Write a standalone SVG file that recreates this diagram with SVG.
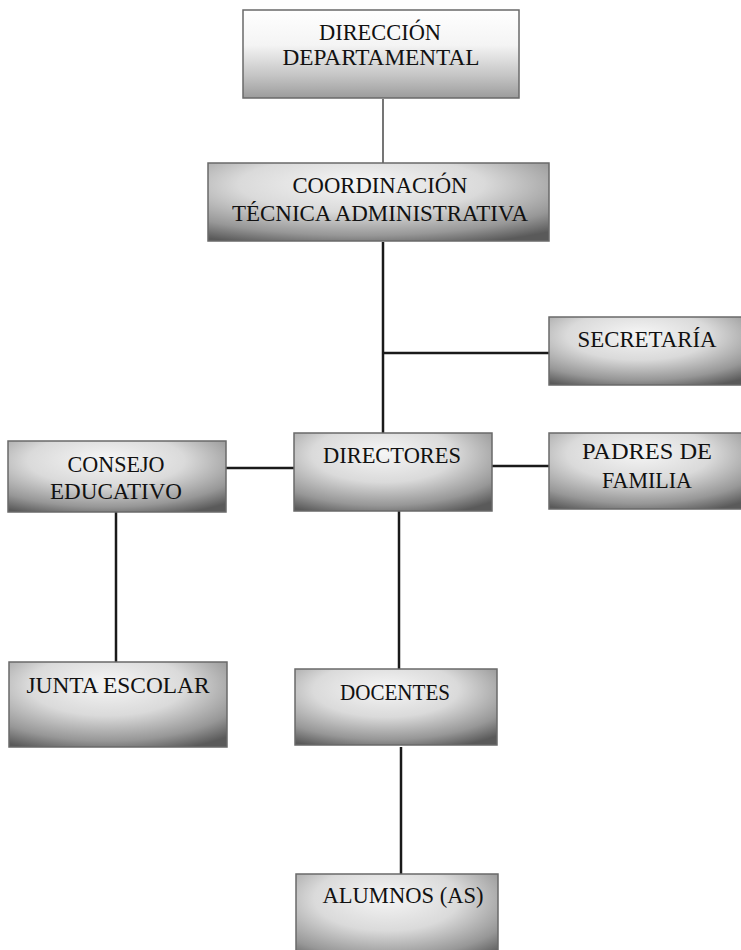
<svg xmlns="http://www.w3.org/2000/svg" width="741" height="950" viewBox="0 0 741 950">
  <defs>
    <radialGradient id="shade" cx="0.45" cy="0.3" r="0.8" fx="0.45" fy="0.25">
      <stop offset="0" stop-color="#f6f6f6"/>
      <stop offset="0.45" stop-color="#dadada"/>
      <stop offset="0.8" stop-color="#979797"/>
      <stop offset="1" stop-color="#5a5a5a"/>
    </radialGradient>
    <linearGradient id="shadeTop" x1="0" y1="0" x2="0" y2="1">
      <stop offset="0" stop-color="#ffffff"/>
      <stop offset="0.4" stop-color="#f4f4f4"/>
      <stop offset="0.75" stop-color="#c4c4c4"/>
      <stop offset="1" stop-color="#9c9c9c"/>
    </linearGradient>
  </defs>
  <style>
    .box { fill: url(#shade); stroke: #6a6a6a; stroke-width: 1.5; }
    .box.top { fill: url(#shadeTop); }
    .lbl { font-family: "Liberation Serif", "DejaVu Serif", serif; font-size: 24px; fill: #111111; text-anchor: middle; }
    .wire { stroke: #1a1a1a; stroke-width: 2.5; fill: none; }
    .wire.thin { stroke-width: 1.2; }
  </style>
  <rect width="741" height="950" fill="#ffffff"/>

  <g id="connectors">
    <line class="wire thin" x1="383" y1="99" x2="383" y2="163"/>
    <line class="wire" x1="383" y1="242" x2="383" y2="433"/>
    <line class="wire" x1="383" y1="353" x2="549" y2="353"/>
    <line class="wire" x1="226" y1="468" x2="294" y2="468"/>
    <line class="wire" x1="492" y1="466" x2="549" y2="466"/>
    <line class="wire" x1="116" y1="512" x2="116" y2="662"/>
    <line class="wire" x1="399" y1="511" x2="399" y2="669"/>
    <line class="wire" x1="401" y1="747" x2="401" y2="874"/>
  </g>

  <!-- labels use a slightly condensed serif (textLength) -->
  <g id="direccion">
    <rect class="box top" x="243" y="10" width="276" height="88"/>
    <text class="lbl" x="380" y="40" textLength="122" lengthAdjust="spacingAndGlyphs">DIRECCIÓN</text>
    <text class="lbl" x="381" y="65" textLength="197" lengthAdjust="spacingAndGlyphs">DEPARTAMENTAL</text>
  </g>

  <g id="coordinacion">
    <rect class="box" x="208" y="163" width="341" height="78"/>
    <text class="lbl" x="380" y="193" textLength="175" lengthAdjust="spacingAndGlyphs">COORDINACIÓN</text>
    <text class="lbl" x="380" y="221" textLength="296" lengthAdjust="spacingAndGlyphs">TÉCNICA ADMINISTRATIVA</text>
  </g>

  <g id="secretaria">
    <rect class="box" x="549" y="317" width="200" height="68"/>
    <text class="lbl" x="647" y="347" textLength="139" lengthAdjust="spacingAndGlyphs">SECRETARÍA</text>
  </g>

  <g id="consejo">
    <rect class="box" x="8" y="441" width="218" height="71"/>
    <text class="lbl" x="116" y="472" textLength="97" lengthAdjust="spacingAndGlyphs">CONSEJO</text>
    <text class="lbl" x="116" y="499" textLength="132" lengthAdjust="spacingAndGlyphs">EDUCATIVO</text>
  </g>

  <g id="directores">
    <rect class="box" x="294" y="433" width="198" height="78"/>
    <text class="lbl" x="392" y="463" textLength="138" lengthAdjust="spacingAndGlyphs">DIRECTORES</text>
  </g>

  <g id="padres">
    <rect class="box" x="549" y="433" width="200" height="76"/>
    <text class="lbl" x="647" y="459" textLength="130" lengthAdjust="spacingAndGlyphs">PADRES DE</text>
    <text class="lbl" x="647" y="488" textLength="90" lengthAdjust="spacingAndGlyphs">FAMILIA</text>
  </g>

  <g id="junta">
    <rect class="box" x="9" y="662" width="218" height="85"/>
    <text class="lbl" x="118" y="693" textLength="183" lengthAdjust="spacingAndGlyphs">JUNTA ESCOLAR</text>
  </g>

  <g id="docentes">
    <rect class="box" x="295" y="669" width="202" height="76"/>
    <text class="lbl" x="395" y="700" textLength="110" lengthAdjust="spacingAndGlyphs">DOCENTES</text>
  </g>

  <g id="alumnos">
    <rect class="box" x="296" y="874" width="202" height="90"/>
    <text class="lbl" x="403" y="903" textLength="161" lengthAdjust="spacingAndGlyphs">ALUMNOS (AS)</text>
  </g>
</svg>
